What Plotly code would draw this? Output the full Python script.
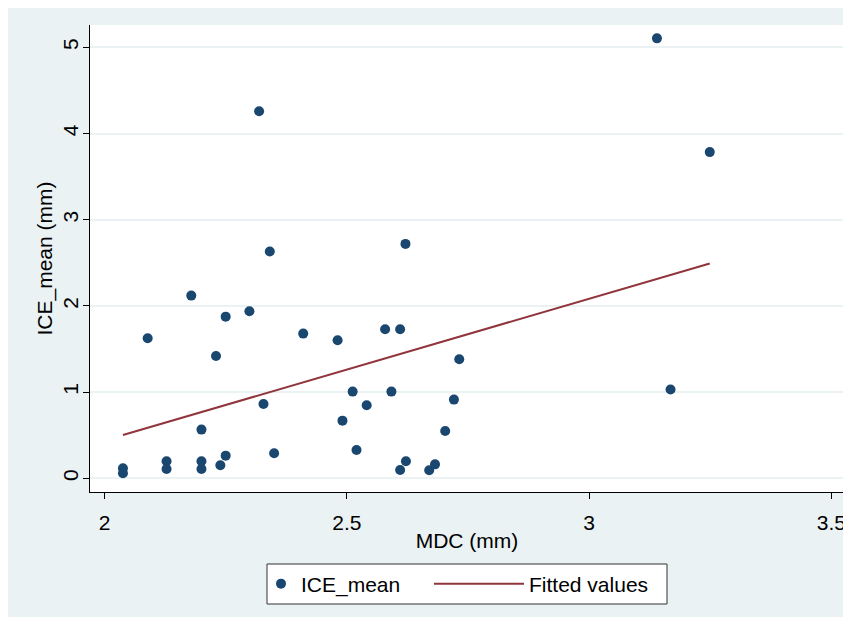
import numpy as np
import plotly.graph_objects as go

# Data
mdc = [2.038, 2.038, 2.089, 2.128, 2.128, 2.179, 2.20, 2.20, 2.20, 2.230,
       2.239, 2.250, 2.250, 2.299, 2.319, 2.328, 2.341, 2.350, 2.410, 2.481,
       2.491, 2.512, 2.520, 2.541, 2.579, 2.592, 2.610, 2.610, 2.621, 2.622,
       2.670, 2.682, 2.703, 2.721, 2.732, 3.140, 3.168, 3.249]
ice_mean = [0.116, 0.058, 1.625, 0.197, 0.108, 2.12, 0.565, 0.197, 0.108, 1.42,
            0.151, 1.876, 0.263, 1.938, 4.26, 0.863, 2.632, 0.290, 1.679, 1.602,
            0.669, 1.006, 0.329, 0.847, 1.729, 1.006, 1.729, 0.097, 2.72, 0.197,
            0.093, 0.162, 0.549, 0.913, 1.381, 5.105, 1.03, 3.785]

x_ticks = [2, 2.5, 3, 3.5]
x_tick_labels = ["2", "2.5", "3", "3.5"]
y_ticks = [0, 1, 2, 3, 4, 5]
y_tick_labels = ["0", "1", "2", "3", "4", "5"]

# Linear fit (like Stata lfit), drawn over the observed x range
slope, intercept = np.polyfit(mdc, ice_mean, 1)
fit_x = [min(mdc), max(mdc)]
fit_y = [intercept + slope * v for v in fit_x]

FONT = "Liberation Sans, Arial, sans-serif"
NAVY = "#1A476F"
MAROON = "#90353B"
BG = "#EAF2F3"

# page body has an 8px margin; the figure starts at (8, 8) in the window
W, H = 851, 617
ML, MR, MT, MB = 82, 15, 17, 133
pw = W - ML - MR
ph = H - MT - MB


def px_x(p):
    return (p - ML) / pw


def px_y(p):
    return (H - MB - p) / ph


fig = go.Figure()
fig.add_trace(go.Scatter(
    x=mdc, y=ice_mean, mode="markers", name="ICE_mean",
    marker=dict(color=NAVY, size=10, line=dict(width=0)),
    legend="legend",
))
fig.add_trace(go.Scatter(
    x=fit_x, y=fit_y, mode="lines", name="Fitted values",
    line=dict(color=MAROON, width=2),
    legend="legend2",
))

# legend frame
fig.add_shape(type="rect", xref="paper", yref="paper", layer="above",
              x0=px_x(259), x1=px_x(659), y0=px_y(596), y1=px_y(556),
              fillcolor="white", line=dict(color="#333333", width=1))

legend_common = dict(
    orientation="h", yanchor="middle", y=px_y(576),
    bgcolor="rgba(0,0,0,0)", borderwidth=0,
    font=dict(family=FONT, size=21, color="black"),
)

fig.update_layout(
    width=W, height=H,
    margin=dict(l=ML, r=MR, t=MT, b=MB),
    paper_bgcolor=BG,
    plot_bgcolor="white",
    font=dict(family=FONT, size=21, color="black"),
    showlegend=True,
    legend=dict(**legend_common, x=px_x(253), xanchor="left", itemwidth=30),
    legend2=dict(**legend_common, x=px_x(421), xanchor="left", itemwidth=90),
    xaxis=dict(
        range=[1.970, 3.526], automargin=False,
        tickmode="array", tickvals=x_ticks, ticktext=x_tick_labels,
        ticks="outside", ticklen=6, tickcolor="black", tickwidth=1,
        ticklabelstandoff=6,
        showline=True, linecolor="black", linewidth=1,
        showgrid=False, zeroline=False,
        title=dict(text="MDC (mm)", standoff=0, font=dict(size=21)),
    ),
    yaxis=dict(
        range=[-0.159, 5.26], automargin=False,
        tickmode="array", tickvals=y_ticks, ticktext=y_tick_labels,
        tickangle=-90,
        ticks="outside", ticklen=6, tickcolor="black", tickwidth=1,
        ticklabelstandoff=-3,
        showline=True, linecolor="black", linewidth=1,
        showgrid=True, gridcolor=BG, gridwidth=1.5,
        zeroline=False,
        title=dict(text="ICE_mean (mm)", standoff=0, font=dict(size=21)),
    ),
)

fig.write_html("out.html")
